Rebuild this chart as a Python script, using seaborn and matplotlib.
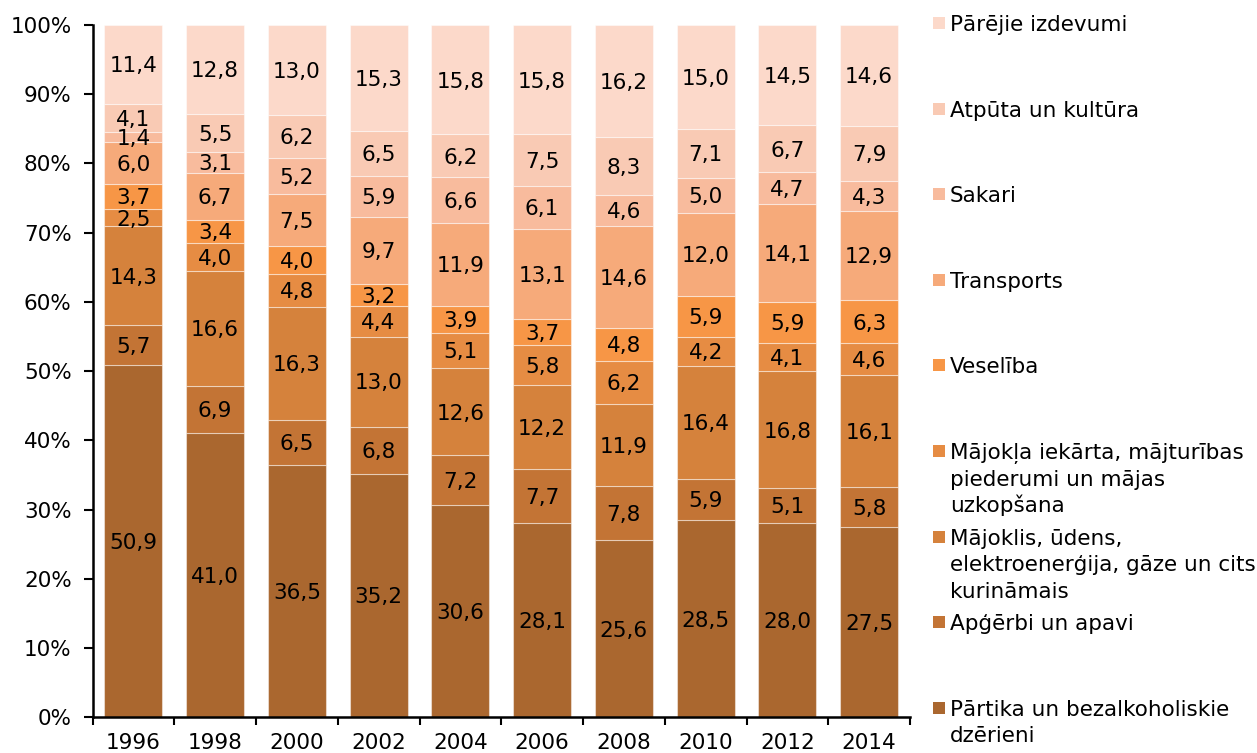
import numpy as np
import pandas as pd
import matplotlib
matplotlib.use("Agg")
import matplotlib.pyplot as plt
import matplotlib.transforms as mtransforms
from matplotlib.patches import Rectangle
from matplotlib.ticker import FuncFormatter
import seaborn as sns

# ---------------- data ----------------
years = ["1996", "1998", "2000", "2002", "2004", "2006", "2008", "2010", "2012", "2014"]

# stacked from bottom to top
categories = [
    "Pārtika un bezalkoholiskie\ndzērieni",
    "Apģērbi un apavi",
    "Mājoklis, ūdens,\nelektroenerģija, gāze un cits\nkurināmais",
    "Mājokļa iekārta, mājturības\npiederumi un mājas\nuzkopšana",
    "Veselība",
    "Transports",
    "Sakari",
    "Atpūta un kultūra",
    "Pārējie izdevumi",
]

partika    = [50.9, 41.0, 36.5, 35.2, 30.6, 28.1, 25.6, 28.5, 28.0, 27.5]
apgerbi    = [5.7, 6.9, 6.5, 6.8, 7.2, 7.7, 7.8, 5.9, 5.1, 5.8]
majoklis   = [14.3, 16.6, 16.3, 13.0, 12.6, 12.2, 11.9, 16.4, 16.8, 16.1]
iekarta    = [2.5, 4.0, 4.8, 4.4, 5.1, 5.8, 6.2, 4.2, 4.1, 4.6]
veseliba   = [3.7, 3.4, 4.0, 3.2, 3.9, 3.7, 4.8, 5.9, 5.9, 6.3]
transports = [6.0, 6.7, 7.5, 9.7, 11.9, 13.1, 14.6, 12.0, 14.1, 12.9]
sakari     = [1.4, 3.1, 5.2, 5.9, 6.6, 6.1, 4.6, 5.0, 4.7, 4.3]
atputa     = [4.1, 5.5, 6.2, 6.5, 6.2, 7.5, 8.3, 7.1, 6.7, 7.9]
parejie    = [11.4, 12.8, 13.0, 15.3, 15.8, 15.8, 16.2, 15.0, 14.5, 14.6]

series = [partika, apgerbi, majoklis, iekarta, veseliba, transports, sakari, atputa, parejie]

colors = ["#AA672F", "#C37435", "#D5823C", "#E68C43", "#F79646",
          "#F6AA7A", "#F8BB9D", "#F9CAB4", "#FCD9CA"]

y_ticks = [0, 10, 20, 30, 40, 50, 60, 70, 80, 90, 100]

# ---------------- style ----------------
plt.rcParams["font.family"] = ["DejaVu Sans"]
FS = 15.5

W, H = 1257, 753
fig = plt.figure(figsize=(W / 100, H / 100), dpi=100)
ax_left, ax_right, ax_top, ax_bottom = 92.5, 910, 25, 717.3
ax = fig.add_axes([ax_left / W, 1 - ax_bottom / H, (ax_right - ax_left) / W, (ax_bottom - ax_top) / H])

vals = np.array(series, dtype=float)
totals = vals.sum(axis=0)
shares = vals / totals * 100.0  # 100 % stacked

df = pd.DataFrame({"year": years})
bottom = np.zeros(len(years))
label_tf = mtransforms.offset_copy(ax.transData, fig=fig, y=-0.365 * FS, units="points")
for k, (raw, share, col) in enumerate(zip(vals, shares, colors)):
    df["share"] = share
    sns.barplot(data=df, x="year", y="share", order=years, bottom=bottom,
                color=col, saturation=1, width=0.71, errorbar=None,
                edgecolor=(1, 1, 1, 0.45), linewidth=0.8, ax=ax)
    for i in range(len(years)):
        txt = f"{raw[i]:.1f}".replace(".", ",")
        ax.text(i, bottom[i] + share[i] / 2, txt, ha="center", va="baseline",
                fontsize=FS, color="black", transform=label_tf)
    bottom = bottom + share

# ---------------- axes ----------------
ax.set_xlim(-0.5, len(years) - 0.5)
ax.set_ylim(0, 100)
ax.set_xlabel("")
ax.set_ylabel("")
ax.set_yticks(y_ticks)
ax.yaxis.set_major_formatter(FuncFormatter(lambda v, p: f"{v:.0f}%"))
ax.set_xticks(range(len(years)))
ax.set_xticklabels(years)
ax.set_xticks(np.arange(-0.5, len(years), 1.0), minor=True)

for s in ["top", "right"]:
    ax.spines[s].set_visible(False)
for s in ["left", "bottom"]:
    ax.spines[s].set_color("black")
    ax.spines[s].set_linewidth(1.8)

ax.tick_params(axis="y", which="major", direction="out", length=6.5, width=1.5,
               pad=8.5, labelsize=FS, colors="black")
ax.tick_params(axis="x", which="major", length=0, pad=11.5, labelsize=FS, colors="black")
ax.tick_params(axis="x", which="minor", direction="out", length=6, width=1.5, color="black")
ax.set_facecolor("white")
fig.patch.set_facecolor("white")

# ---------------- legend (manual, evenly spaced like Excel) ----------------
base0, step, line_gap = 31.0, 85.6, 26.5
for j, k in enumerate(range(len(categories) - 1, -1, -1)):
    baseline = base0 + step * j
    fig.add_artist(Rectangle((933 / W, 1 - (baseline - 2) / H), 12 / W, 12 / H,
                             transform=fig.transFigure, facecolor=colors[k],
                             edgecolor="none"))
    for li, line in enumerate(categories[k].split("\n")):
        fig.text(950 / W, 1 - (baseline + li * line_gap) / H, line, ha="left",
                 va="baseline", fontsize=FS, color="black")

fig.savefig("out.png", dpi=100, facecolor="white")
